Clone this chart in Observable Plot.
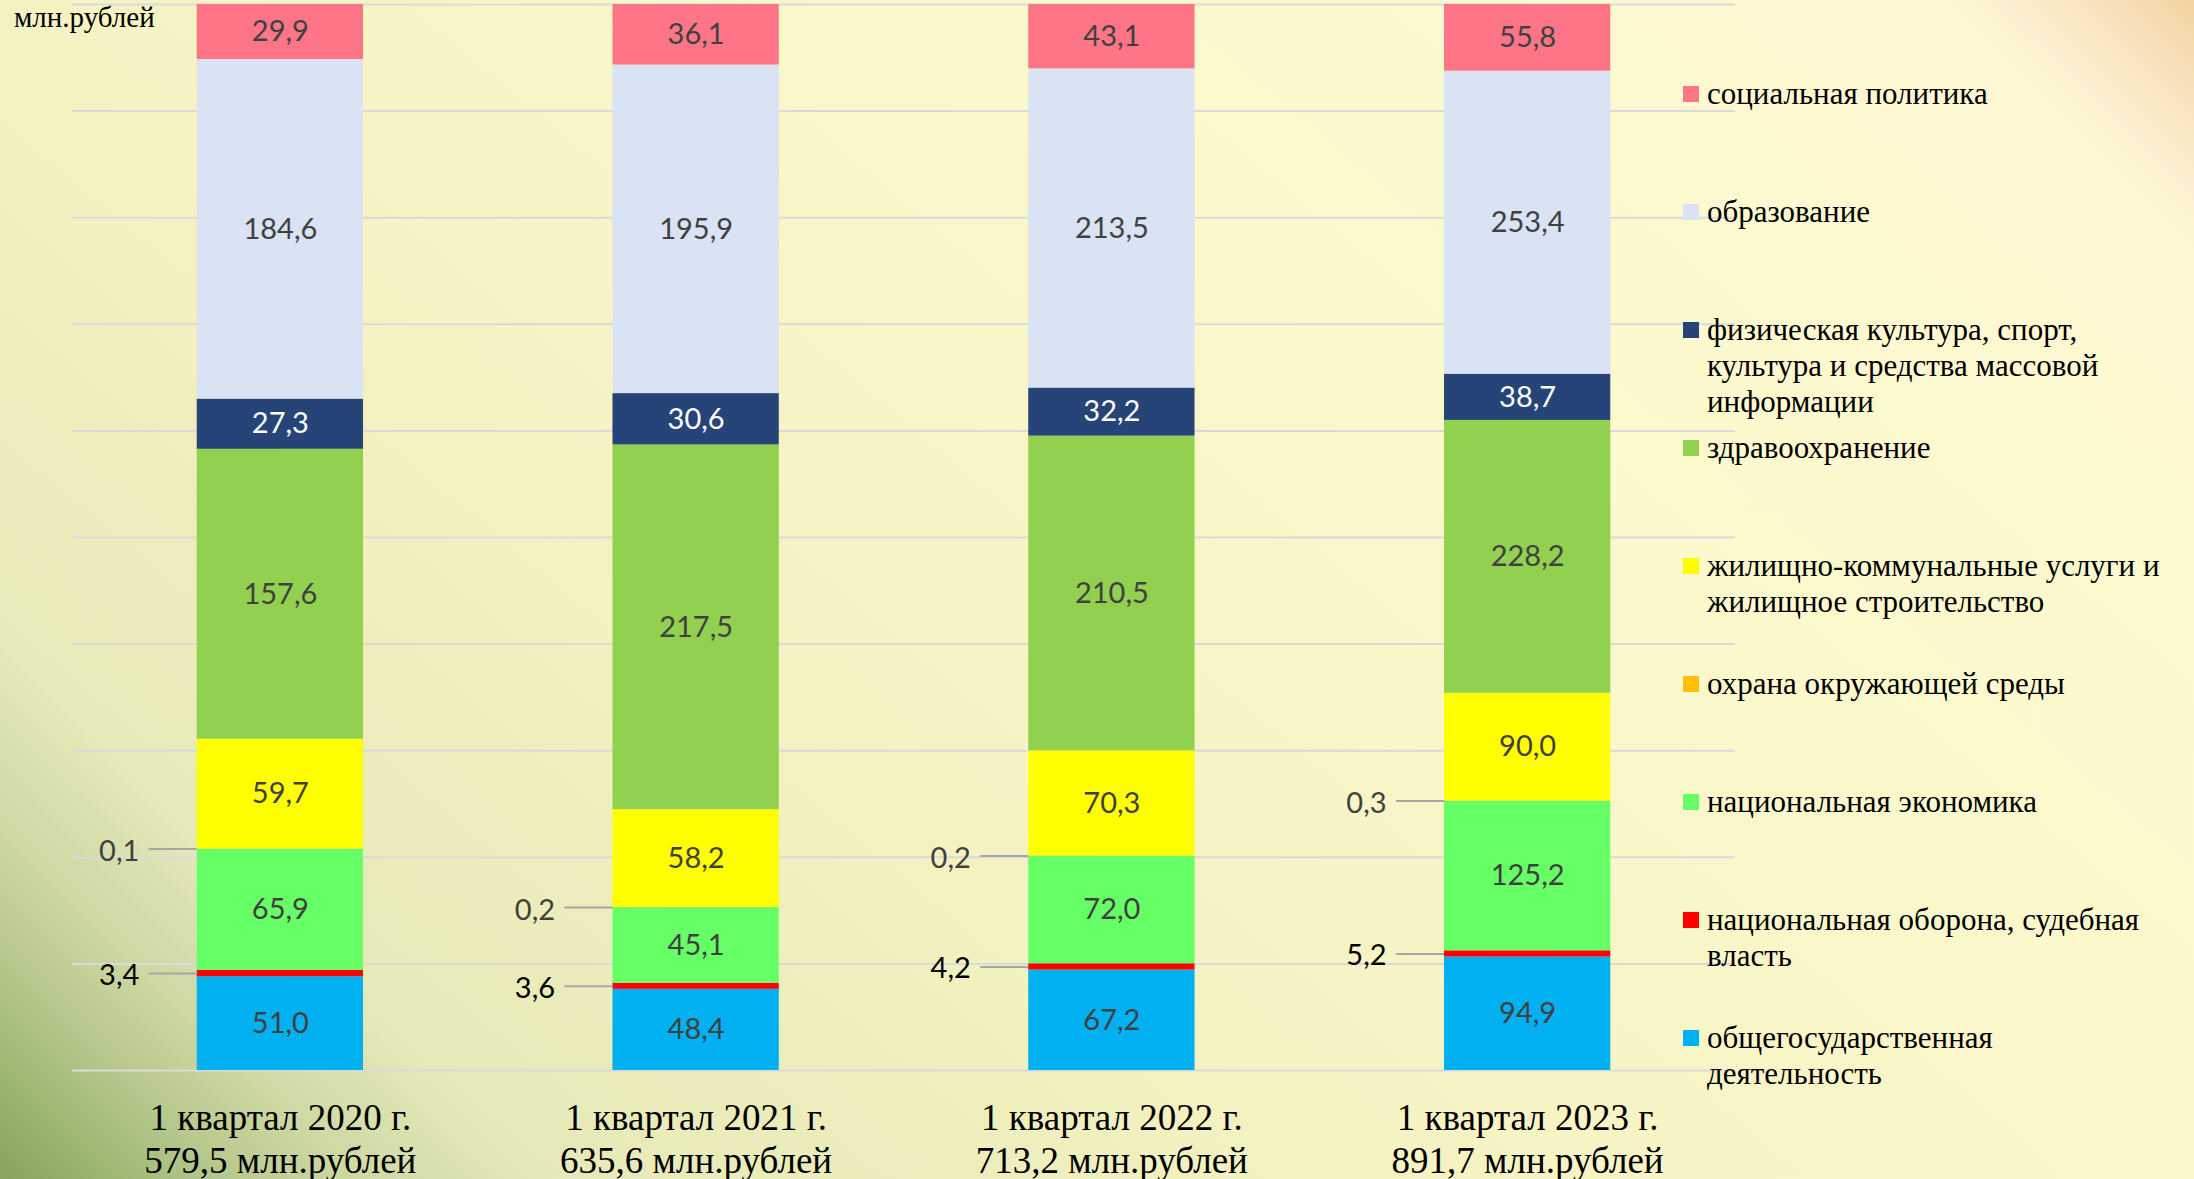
<!DOCTYPE html>
<html><head><meta charset="utf-8">
<script src="https://cdn.jsdelivr.net/npm/d3@7"></script>
<script src="https://cdn.jsdelivr.net/npm/@observablehq/plot@0.6"></script>
<style>
html,body{margin:0;padding:0;}
body{width:2194px;height:1179px;overflow:hidden;position:relative;
background:
 linear-gradient(225deg, #F3D3A2 0px, #F6DDB2 45px, #F9E6C2 90px, #FCEFCF 135px, rgba(255,246,210,0) 180px),
 linear-gradient(45deg, #87A55F 0px, #94B06C 50px, #A3BB7A 100px, #B3C68A 150px, #C4D199 210px, #D3DCA8 280px, rgba(220,226,176,0) 380px),
 linear-gradient(220deg, #FFF8D4 0%, #FBF9CC 35%, #F5F3C2 60%, #DDE3B0 100%);
}
#chart{position:absolute;left:0;top:0;}
#unit{position:absolute;left:14px;top:1px;font:29px "Liberation Serif";color:#000;}
.leg{position:absolute;left:1683px;font:31px/36px "Liberation Serif";color:#000;white-space:pre-line;}
.leg .sw{position:absolute;left:0;top:10px;width:16px;height:16px;}
.leg .tx{margin-left:24px;}
</style></head>
<body>
<div id="chart"></div>
<div id="unit">млн.рублей</div>
<div id="legend"></div>
<script>
// ---- data ----
const years = ["2020", "2021", "2022", "2023"];
const yearLabels = ["1 квартал 2020 г.", "1 квартал 2021 г.", "1 квартал 2022 г.", "1 квартал 2023 г."];
const totalLabels = ["579,5 млн.рублей", "635,6 млн.рублей", "713,2 млн.рублей", "891,7 млн.рублей"];

// categories from bottom of stack to top
const categories = [
  "общегосударственная деятельность",
  "национальная оборона, судебная власть",
  "национальная экономика",
  "охрана окружающей среды",
  "жилищно-коммунальные услуги и жилищное строительство",
  "здравоохранение",
  "физическая культура, спорт, культура и средства массовой информации",
  "образование",
  "социальная политика"
];
const legendLabels = [
  "общегосударственная\nдеятельность",
  "национальная оборона, судебная\nвласть",
  "национальная экономика",
  "охрана окружающей среды",
  "жилищно-коммунальные услуги и\nжилищное строительство",
  "здравоохранение",
  "физическая культура, спорт,\nкультура и средства массовой\nинформации",
  "образование",
  "социальная политика"
];
const colors = ["#00B0F0", "#FF0000", "#66FF66", "#FFC000", "#FFFF00", "#92D050", "#264478", "#DAE3F3", "#FF7588"];

const obshegos   = [51.0, 48.4, 67.2, 94.9];
const oborona    = [3.4, 3.6, 4.2, 5.2];
const ekonomika  = [65.9, 45.1, 72.0, 125.2];
const okhrana    = [0.1, 0.2, 0.2, 0.3];
const zhkh       = [59.7, 58.2, 70.3, 90.0];
const zdrav      = [157.6, 217.5, 210.5, 228.2];
const fizkult    = [27.3, 30.6, 32.2, 38.7];
const obrazov    = [184.6, 195.9, 213.5, 253.4];
const socpol     = [29.9, 36.1, 43.1, 55.8];

const series = [obshegos, oborona, ekonomika, okhrana, zhkh, zdrav, fizkult, obrazov, socpol];

// ---- build table ----
const rows = [];
categories.forEach((c, ci) => years.forEach((y, yi) => rows.push({year: y, cat: c, value: series[ci][yi]})));

const fmt = v => d3.format(".1f")(v).replace(".", ",");

const W = 2194, H = 1179;
const mL = 72, mR = 459, mT = 4, mB = 109;
const pInner = 0.6, pOuter = 0.3;
const step = (W - mL - mR) / (years.length - pInner + 2 * pOuter);
const bw = step * (1 - pInner);

const stk = (extra) => Plot.stackY({x: "year", y: "value", z: "cat", order: categories, offset: "normalize", ...extra});
const navy = categories[6];
const smallCats = [categories[1], categories[3]];

const plot = Plot.plot({
  width: W, height: H,
  marginLeft: mL, marginRight: mR, marginTop: mT, marginBottom: mB,
  style: {background: "transparent", overflow: "visible"},
  x: {domain: years, paddingInner: pInner, paddingOuter: pOuter, round: false, label: null},
  y: {domain: [0, 1], axis: null},
  color: {domain: categories, range: colors},
  marks: [
    Plot.gridY(d3.range(0, 11).map(i => i / 10), {stroke: "#D9D9DE", strokeOpacity: 1, strokeWidth: 2}),
    Plot.barY(rows, stk({fill: "cat"})),
    Plot.text(rows, stk({text: d => (d.value >= 10 && d.cat !== navy) ? fmt(d.value) : null,
      fill: "#404040", fontSize: 29, fontFamily: "Lato"})),
    Plot.text(rows, stk({text: d => (d.cat === navy) ? fmt(d.value) : null,
      fill: "white", fontSize: 29, fontFamily: "Lato"})),
    Plot.tickY(rows, stk({stroke: d => smallCats.includes(d.cat) ? "#A6A6A6" : "none",
      strokeWidth: 2, insetLeft: -48, insetRight: bw})),
    Plot.text(rows, stk({text: d => d.cat === categories[3] ? fmt(d.value) : null,
      fill: "#404040", fontSize: 29, fontFamily: "Lato", dx: -bw / 2 - 78, dy: 3})),
    Plot.text(rows, stk({text: d => d.cat === categories[1] ? fmt(d.value) : null,
      fill: "#000000", fontSize: 29, fontFamily: "Lato", dx: -bw / 2 - 78, dy: 2})),
    Plot.axisX({tickSize: 0, tickPadding: 30, fontSize: 37, fontFamily: "Liberation Serif",
      fill: "#000", lineHeight: 1.14, label: null,
      tickFormat: d => { const i = years.indexOf(d); return yearLabels[i] + "\n" + totalLabels[i]; }})
  ]
});
document.getElementById("chart").appendChild(plot);

// ---- legend (top to bottom) ----
const leg = document.getElementById("legend");
for (let k = 0; k < categories.length; k++) {
  const ci = categories.length - 1 - k;
  const div = document.createElement("div");
  div.className = "leg";
  div.style.top = (76 + k * 118) + "px";
  const sw = document.createElement("div");
  sw.className = "sw"; sw.style.background = colors[ci];
  const tx = document.createElement("div");
  tx.className = "tx"; tx.textContent = legendLabels[ci];
  div.appendChild(sw); div.appendChild(tx);
  leg.appendChild(div);
}
</script>
</body></html>
